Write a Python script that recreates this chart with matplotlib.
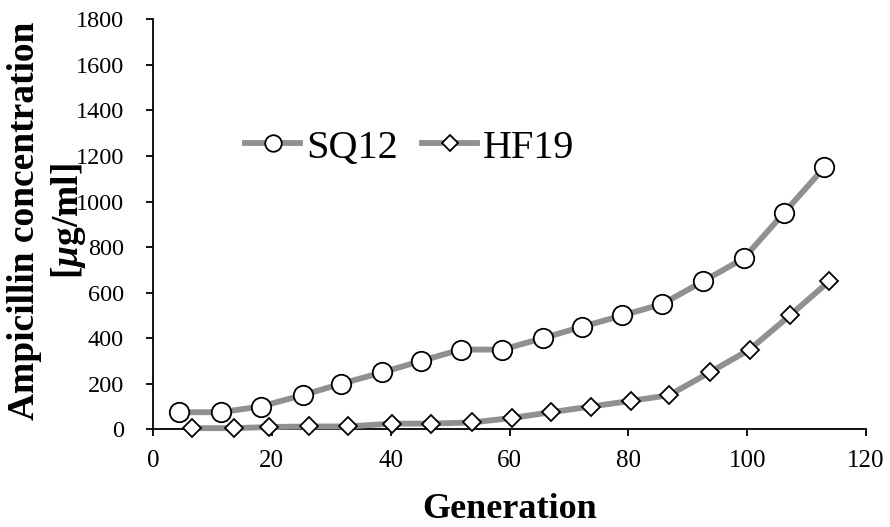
import matplotlib
matplotlib.use("Agg")
import matplotlib.pyplot as plt

# Generation at which each concentration step was reached
sq12_gen = [4.4, 11.4, 18.1, 25.2, 31.7, 38.6, 45.1, 51.8, 58.8, 65.6, 72.2,
            79.0, 85.7, 92.6, 99.4, 106.2, 113.0]
sq12_conc = [75, 75, 100, 150, 200, 250, 300, 350, 350, 400, 450,
             500, 550, 650, 750, 950, 1150]

hf19_gen = [6.6, 13.6, 19.6, 26.3, 32.9, 40.2, 46.8, 53.7, 60.5, 67.0, 73.7,
            80.5, 86.9, 93.7, 100.4, 107.2, 113.8]
hf19_conc = [5, 5, 10, 12.5, 12.5, 25, 25, 30, 50, 75, 100,
             125, 150, 250, 350, 500, 650]

x_ticks = [0, 20, 40, 60, 80, 100, 120]
y_ticks = [0, 200, 400, 600, 800, 1000, 1200, 1400, 1600, 1800]

plt.rcParams["font.family"] = ["Liberation Serif", "DejaVu Serif"]
plt.rcParams["mathtext.fontset"] = "custom"
plt.rcParams["mathtext.it"] = "Liberation Serif:italic:bold"
plt.rcParams["mathtext.rm"] = "Liberation Serif:bold"
plt.rcParams["mathtext.bf"] = "Liberation Serif:bold"

W, H = 890, 527
fig = plt.figure(figsize=(W / 100, H / 100), dpi=100)
ax = fig.add_axes([153 / W, 1 - 429.3 / H, (866 - 153) / W, (429.3 - 19.3) / H])

line_color = "#909090"
ax.plot(sq12_gen, sq12_conc, color=line_color, lw=4.2, marker="o", ms=14,
        mfc="white", mec="black", mew=1.3, label="SQ12", clip_on=False, zorder=5)
ax.plot(hf19_gen, hf19_conc, color=line_color, lw=4.2, marker="D", ms=9.5,
        mfc="white", mec="black", mew=1.3, label="HF19", clip_on=False, zorder=5)

ax.set_xlim(0, 120)
ax.set_ylim(0, 1800)
ax.set_xticks(x_ticks)
ax.set_yticks(y_ticks)
ax.spines["top"].set_visible(False)
ax.spines["right"].set_visible(False)
for s in ("left", "bottom"):
    ax.spines[s].set_linewidth(1.3)
    ax.spines[s].set_zorder(2)
ax.tick_params(axis="y", direction="out", length=5, width=1.3, pad=16, labelsize=17.5)
ax.tick_params(axis="x", direction="out", length=5, width=1.3, pad=10, labelsize=18)

ax.set_xlabel("Generation", fontsize=26, fontweight="bold", labelpad=15)

fig.text(47.5 / W, 1 - 221 / H, "Ampicillin concentration\n[$\\mu$g/ml]",
         rotation=90, ha="center", va="center", multialignment="center",
         fontsize=27, fontweight="bold", linespacing=1.25)

leg = ax.legend(loc="center left", bbox_to_anchor=(245 / W, 1 - 148 / H),
                bbox_transform=fig.transFigure, ncol=2, frameon=False,
                fontsize=29, handlelength=1.37, handletextpad=0.15,
                columnspacing=0.6, borderpad=0, borderaxespad=0, markerscale=0.85)

fig.savefig("out.png", dpi=100)
